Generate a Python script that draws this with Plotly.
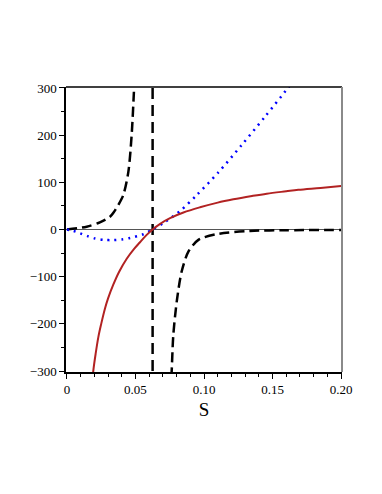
import plotly.graph_objects as go

# values
red_S = [0.0180, 0.0192, 0.0210, 0.0229, 0.0250, 0.0277, 0.0300, 0.0338, 0.0380, 0.0436,
         0.0490, 0.0533, 0.0580, 0.0625, 0.0680, 0.0752, 0.0850, 0.0971, 0.1100, 0.1214,
         0.1350, 0.1458, 0.1600, 0.1688, 0.1850, 0.2000]
red_v = [-340, -300, -262, -228, -200, -168, -146, -117, -90, -62,
         -41, -27, -12, 0, 12, 24, 36, 47, 57, 64,
         71, 76, 81, 84, 88, 92]

blue_S = [0.0, 0.0046, 0.0095, 0.0150, 0.0204, 0.0270, 0.0338, 0.0400, 0.0460, 0.0557,
          0.0625, 0.0715, 0.0825, 0.0947, 0.1105, 0.1275, 0.1445, 0.1610, 0.1660]
blue_v = [0, -3, -8, -14, -19, -22, -22.5, -21, -18, -10,
          0, 16, 39, 73, 121, 179, 239, 299, 318]

black_left_S = [0.0, 0.0144, 0.0240, 0.0314, 0.0340, 0.0375, 0.0411, 0.0448, 0.0472, 0.0490, 0.0500]
black_left_v = [0, 6, 15, 27, 36, 52, 73, 122, 200, 300, 360]

black_right_S = [0.0755, 0.0764, 0.0776, 0.0801, 0.0837, 0.0886, 0.0959, 0.1090, 0.1336, 0.1600, 0.2000]
black_right_v = [-345, -301, -224, -153, -89, -47, -22, -10, -3, -1.5, -1]

pole_S = [0.0625, 0.0625]
pole_v = [-300, 300]

x_ticks = [0, 0.05, 0.10, 0.15, 0.20]
x_labels = ["0", "0.05", "0.10", "0.15", "0.20"]
y_ticks = [-300, -200, -100, 0, 100, 200, 300]
y_labels = ["\u2212300", "\u2212200", "\u2212100", "0", "100", "200", "300"]

fig = go.Figure()

dash_blk = "10px,5px"
fig.add_trace(go.Scatter(x=black_left_S, y=black_left_v, mode="lines",
                         line=dict(color="black", width=2.5, dash=dash_blk, shape="spline", smoothing=0.8)))
fig.add_trace(go.Scatter(x=black_right_S, y=black_right_v, mode="lines",
                         line=dict(color="black", width=2.5, dash=dash_blk, shape="spline", smoothing=0.8)))
fig.add_trace(go.Scatter(x=pole_S, y=pole_v, mode="lines",
                         line=dict(color="black", width=2.5, dash="11px,6px")))
fig.add_trace(go.Scatter(x=blue_S, y=blue_v, mode="lines",
                         line=dict(color="#0000FF", width=2.5, dash="2px,5px", shape="spline", smoothing=0.8)))
fig.add_trace(go.Scatter(x=red_S, y=red_v, mode="lines",
                         line=dict(color="#B22222", width=2, shape="spline", smoothing=1)))

# top and right frame lines
fig.add_shape(type="line", xref="paper", yref="paper", x0=0, x1=1, y0=1, y1=1,
              line=dict(color="black", width=1.5))
fig.add_shape(type="line", xref="paper", yref="paper", x0=1, x1=1, y0=0, y1=1,
              line=dict(color="#8a8a8a", width=2))

font_serif = "Liberation Serif, Times New Roman, serif"

fig.update_xaxes(range=[-0.0007, 0.2007], tickvals=x_ticks, ticktext=x_labels,
                 ticks="outside", ticklen=5, tickwidth=1, tickcolor="black",
                 minor=dict(dtick=0.01, tick0=0, ticks="outside", ticklen=3, tickcolor="black"),
                 showline=True, linecolor="black", linewidth=1.5,
                 showgrid=False, zeroline=False,
                 tickfont=dict(family=font_serif, size=13, color="black"),
                 title=dict(text="S", font=dict(family=font_serif, size=19, color="black"), standoff=6))
fig.update_yaxes(range=[-302, 302], tickvals=y_ticks, ticktext=y_labels,
                 ticks="outside", ticklen=5, tickwidth=1, tickcolor="black",
                 minor=dict(dtick=50, tick0=0, ticks="outside", ticklen=3, tickcolor="black"),
                 showline=True, linecolor="black", linewidth=1.5,
                 showgrid=False, zeroline=True, zerolinecolor="#555555", zerolinewidth=1,
                 tickfont=dict(family=font_serif, size=13, color="black"))

# page body has an 8px margin, so offsets are reduced by 8
fig.update_layout(width=382, height=494, showlegend=False,
                  margin=dict(l=58, r=48, t=79, b=130),
                  plot_bgcolor="white", paper_bgcolor="white")

fig.write_html("out.html")
